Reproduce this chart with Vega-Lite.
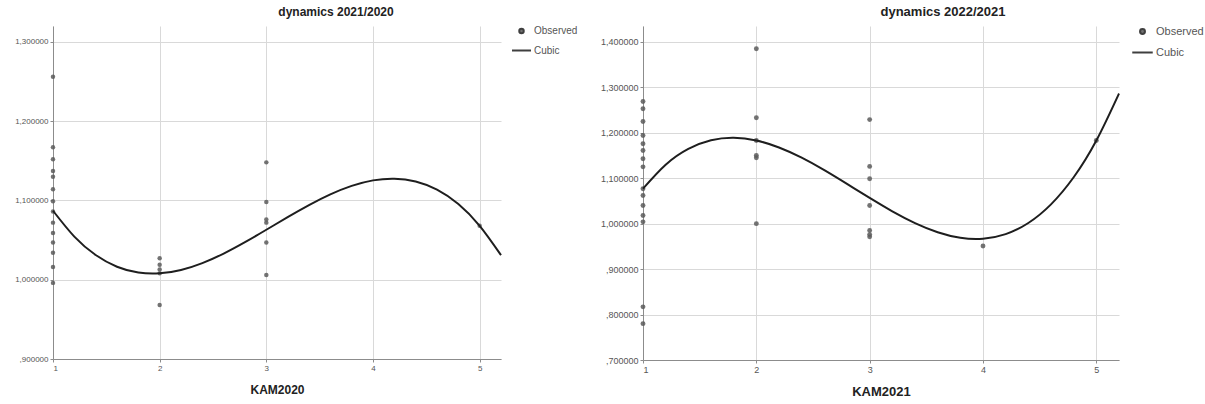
{
  "$schema": "https://vega.github.io/schema/vega-lite/v6.json",
  "background": "white",
  "padding": {"left": 14, "top": 6, "right": 0, "bottom": 0},
  "spacing": 22,
  "datasets": {
    "obs1": [
      {"kam": 1, "val": 1.256, "series": "Observed"},
      {"kam": 1, "val": 1.167, "series": "Observed"},
      {"kam": 1, "val": 1.152, "series": "Observed"},
      {"kam": 1, "val": 1.137, "series": "Observed"},
      {"kam": 1, "val": 1.130, "series": "Observed"},
      {"kam": 1, "val": 1.114, "series": "Observed"},
      {"kam": 1, "val": 1.099, "series": "Observed"},
      {"kam": 1, "val": 1.086, "series": "Observed"},
      {"kam": 1, "val": 1.072, "series": "Observed"},
      {"kam": 1, "val": 1.059, "series": "Observed"},
      {"kam": 1, "val": 1.047, "series": "Observed"},
      {"kam": 1, "val": 1.034, "series": "Observed"},
      {"kam": 1, "val": 1.016, "series": "Observed"},
      {"kam": 1, "val": 0.996, "series": "Observed"},
      {"kam": 2, "val": 1.027, "series": "Observed"},
      {"kam": 2, "val": 1.019, "series": "Observed"},
      {"kam": 2, "val": 1.013, "series": "Observed"},
      {"kam": 2, "val": 1.008, "series": "Observed"},
      {"kam": 2, "val": 0.968, "series": "Observed"},
      {"kam": 3, "val": 1.148, "series": "Observed"},
      {"kam": 3, "val": 1.098, "series": "Observed"},
      {"kam": 3, "val": 1.076, "series": "Observed"},
      {"kam": 3, "val": 1.072, "series": "Observed"},
      {"kam": 3, "val": 1.047, "series": "Observed"},
      {"kam": 3, "val": 1.006, "series": "Observed"},
      {"kam": 5, "val": 1.068, "series": "Observed"}
    ],
    "fit1": [
      {"kam": 1.0, "val": 1.0870}, {"kam": 1.2, "val": 1.0544}, {"kam": 1.4, "val": 1.0312},
      {"kam": 1.6, "val": 1.0164}, {"kam": 1.8, "val": 1.0090}, {"kam": 2.0, "val": 1.0080},
      {"kam": 2.2, "val": 1.0123}, {"kam": 2.4, "val": 1.0210}, {"kam": 2.6, "val": 1.0330},
      {"kam": 2.8, "val": 1.0474}, {"kam": 3.0, "val": 1.0630}, {"kam": 3.2, "val": 1.0789},
      {"kam": 3.4, "val": 1.0941}, {"kam": 3.6, "val": 1.1076}, {"kam": 3.8, "val": 1.1183},
      {"kam": 4.0, "val": 1.1253}, {"kam": 4.2, "val": 1.1274}, {"kam": 4.4, "val": 1.1239},
      {"kam": 4.6, "val": 1.1136}, {"kam": 4.8, "val": 1.0955}, {"kam": 5.0, "val": 1.0680},
      {"kam": 5.2, "val": 1.0310}
    ],
    "obs2": [
      {"kam": 1, "val": 1.269, "series": "Observed"},
      {"kam": 1, "val": 1.253, "series": "Observed"},
      {"kam": 1, "val": 1.225, "series": "Observed"},
      {"kam": 1, "val": 1.194, "series": "Observed"},
      {"kam": 1, "val": 1.176, "series": "Observed"},
      {"kam": 1, "val": 1.161, "series": "Observed"},
      {"kam": 1, "val": 1.143, "series": "Observed"},
      {"kam": 1, "val": 1.125, "series": "Observed"},
      {"kam": 1, "val": 1.077, "series": "Observed"},
      {"kam": 1, "val": 1.062, "series": "Observed"},
      {"kam": 1, "val": 1.040, "series": "Observed"},
      {"kam": 1, "val": 1.018, "series": "Observed"},
      {"kam": 1, "val": 1.004, "series": "Observed"},
      {"kam": 1, "val": 0.817, "series": "Observed"},
      {"kam": 1, "val": 0.780, "series": "Observed"},
      {"kam": 2, "val": 1.385, "series": "Observed"},
      {"kam": 2, "val": 1.233, "series": "Observed"},
      {"kam": 2, "val": 1.183, "series": "Observed"},
      {"kam": 2, "val": 1.150, "series": "Observed"},
      {"kam": 2, "val": 1.145, "series": "Observed"},
      {"kam": 2, "val": 1.000, "series": "Observed"},
      {"kam": 3, "val": 1.229, "series": "Observed"},
      {"kam": 3, "val": 1.126, "series": "Observed"},
      {"kam": 3, "val": 1.099, "series": "Observed"},
      {"kam": 3, "val": 1.040, "series": "Observed"},
      {"kam": 3, "val": 0.985, "series": "Observed"},
      {"kam": 3, "val": 0.976, "series": "Observed"},
      {"kam": 3, "val": 0.971, "series": "Observed"},
      {"kam": 4, "val": 0.951, "series": "Observed"},
      {"kam": 5, "val": 1.183, "series": "Observed"}
    ],
    "fit2": [
      {"kam": 1.0, "val": 1.0770}, {"kam": 1.2, "val": 1.1297}, {"kam": 1.4, "val": 1.1645},
      {"kam": 1.6, "val": 1.1835}, {"kam": 1.8, "val": 1.1890}, {"kam": 2.0, "val": 1.1830},
      {"kam": 2.2, "val": 1.1677}, {"kam": 2.4, "val": 1.1453}, {"kam": 2.6, "val": 1.1179},
      {"kam": 2.8, "val": 1.0876}, {"kam": 3.0, "val": 1.0566}, {"kam": 3.2, "val": 1.0272},
      {"kam": 3.4, "val": 1.0013}, {"kam": 3.6, "val": 0.9812}, {"kam": 3.8, "val": 0.9690},
      {"kam": 4.0, "val": 0.9669}, {"kam": 4.2, "val": 0.9770}, {"kam": 4.4, "val": 1.0015},
      {"kam": 4.6, "val": 1.0425}, {"kam": 4.8, "val": 1.1021}, {"kam": 5.0, "val": 1.1830},
      {"kam": 5.2, "val": 1.2864}
    ]
  },
  "config": {
    "view": {"stroke": null},
    "font": "Liberation Sans",
    "axis": {
      "labelFont": "Liberation Sans",
      "labelColor": "#555555",
      "domainColor": "#8c8c8c",
      "tickColor": "#8c8c8c",
      "tickSize": 3,
      "labelPadding": 2,
      "gridColor": "#d9d9d9",
      "titleFont": "Liberation Sans",
      "titleFontWeight": "bold",
      "titleColor": "#222222"
    },
    "legend": {
      "labelFont": "Liberation Sans",
      "labelColor": "#555555",
      "labelOffset": 2
    },
    "title": {"font": "Liberation Sans", "fontWeight": "bold", "color": "#222222", "anchor": "middle"}
  },
  "resolve": {
    "scale": {"x": "independent", "y": "independent", "color": "independent", "shape": "independent", "size": "independent"},
    "legend": {"color": "independent", "shape": "independent", "size": "independent"}
  },
  "hconcat": [
    {
      "width": 448,
      "height": 333,
      "title": {"text": "dynamics 2021/2020", "fontSize": 12, "dx": 59, "offset": 7},
      "encoding": {
        "x": {"field": "kam", "type": "quantitative",
              "scale": {"domain": [1, 5.2], "nice": false, "zero": false},
              "axis": {"values": [1, 2, 3, 4, 5], "format": "d", "title": "KAM2020", "titleFontSize": 12, "labelFontSize": 8, "titlePadding": 12}},
        "y": {"field": "val", "type": "quantitative",
              "scale": {"domain": [0.9, 1.32], "nice": false, "zero": false},
              "axis": {"values": [0.9, 1.0, 1.1, 1.2, 1.3], "title": null, "labelFontSize": 8,
                       "labelExpr": "datum.value < 1 ? ',' + slice(format(datum.value, '.6f'), 2) : replace(format(datum.value, '.6f'), '.', ',')"}}
      },
      "layer": [
        {
          "data": {"name": "obs1"},
          "mark": {"type": "point", "filled": true, "opacity": 0.85},
          "encoding": {
            "color": {"field": "series", "type": "nominal",
                      "scale": {"domain": ["Observed", "Cubic"], "range": ["#5a5a5a", "#1e1e1e"]},
                      "legend": {"title": null, "offset": 10, "labelFontSize": 10, "rowPadding": 2,
                                 "symbolStrokeColor": "#1e1e1e", "symbolStrokeWidth": 2,
                                 "encode": {"symbols": {"update": {
                                   "strokeWidth": {"signal": "datum.value === 'Cubic' ? 2 : 0"},
                                   "opacity": {"value": 0.9}}}}}},
            "shape": {"field": "series", "type": "nominal",
                      "scale": {"domain": ["Observed", "Cubic"], "range": ["circle", "stroke"]}, "legend": {"title": null}},
            "size": {"field": "series", "type": "nominal",
                     "scale": {"domain": ["Observed", "Cubic"], "range": [20, 361]}, "legend": {"title": null}}
          }
        },
        {
          "data": {"name": "fit1"},
          "mark": {"type": "line", "color": "#1e1e1e", "strokeWidth": 2, "interpolate": "natural"}
        }
      ]
    },
    {
      "width": 476,
      "height": 334,
      "title": {"text": "dynamics 2022/2021", "fontSize": 13, "dx": 62, "offset": 7},
      "encoding": {
        "x": {"field": "kam", "type": "quantitative",
              "scale": {"domain": [1, 5.2], "nice": false, "zero": false},
              "axis": {"values": [1, 2, 3, 4, 5], "format": "d", "title": "KAM2021", "titleFontSize": 13, "labelFontSize": 9, "titlePadding": 11}},
        "y": {"field": "val", "type": "quantitative",
              "scale": {"domain": [0.7, 1.435], "nice": false, "zero": false},
              "axis": {"values": [0.7, 0.8, 0.9, 1.0, 1.1, 1.2, 1.3, 1.4], "title": null, "labelFontSize": 9,
                       "labelExpr": "datum.value < 1 ? ',' + slice(format(datum.value, '.6f'), 2) : replace(format(datum.value, '.6f'), '.', ',')"}}
      },
      "layer": [
        {
          "data": {"name": "obs2"},
          "mark": {"type": "point", "filled": true, "opacity": 0.85},
          "encoding": {
            "color": {"field": "series", "type": "nominal",
                      "scale": {"domain": ["Observed", "Cubic"], "range": ["#5a5a5a", "#1e1e1e"]},
                      "legend": {"title": null, "offset": 12, "labelFontSize": 11, "rowPadding": 3,
                                 "symbolStrokeColor": "#1e1e1e", "symbolStrokeWidth": 2,
                                 "encode": {"symbols": {"update": {
                                   "strokeWidth": {"signal": "datum.value === 'Cubic' ? 2 : 0"},
                                   "opacity": {"value": 0.9}}}}}},
            "shape": {"field": "series", "type": "nominal",
                      "scale": {"domain": ["Observed", "Cubic"], "range": ["circle", "stroke"]}, "legend": {"title": null}},
            "size": {"field": "series", "type": "nominal",
                     "scale": {"domain": ["Observed", "Cubic"], "range": [24, 420]}, "legend": {"title": null}}
          }
        },
        {
          "data": {"name": "fit2"},
          "mark": {"type": "line", "color": "#1e1e1e", "strokeWidth": 2, "interpolate": "natural"}
        }
      ]
    }
  ]
}
